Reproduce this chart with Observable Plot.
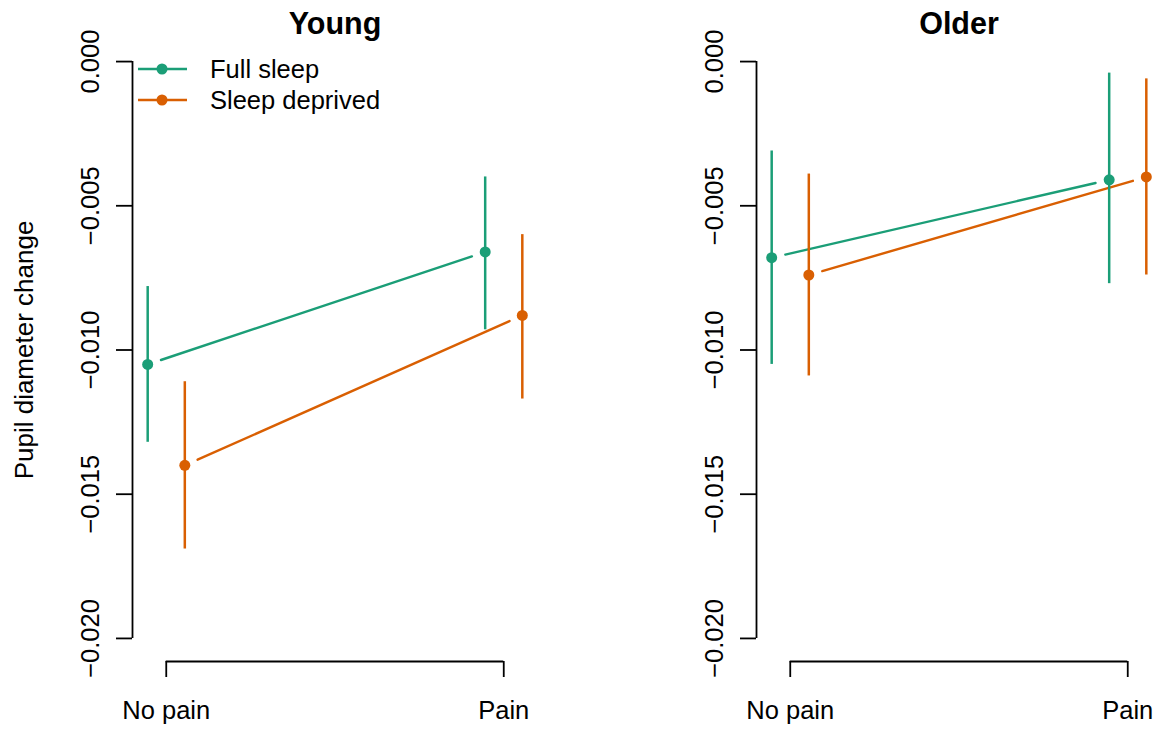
<!DOCTYPE html>
<html><head><meta charset="utf-8">
<script src="https://cdn.jsdelivr.net/npm/d3@7"></script>
<script src="https://cdn.jsdelivr.net/npm/@observablehq/plot@0.6"></script>
<style>
body{margin:0;background:#fff;}
#wrap{position:relative;width:1161px;height:730px;display:flex;}
#wrap svg{font-family:"Liberation Sans", Arial, Helvetica, sans-serif;overflow:visible;}
</style></head><body><div id="wrap"></div>
<script>
// ---- data ----
const groups = ["Young", "Older"];
const conditions = ["No pain", "Pain"];
const series = ["Full sleep", "Sleep deprived"];
const colors = ["#1B9E77", "#D95F02"];
const dodge = [-0.055, 0.055];
const yTicks = [0, -0.005, -0.010, -0.015, -0.020];

// means and interval bounds, per condition [No pain, Pain]
const youngFullMean = [-0.0105, -0.0066];
const youngFullLo   = [-0.0132, -0.0093];
const youngFullHi   = [-0.0078, -0.0040];
const youngDepMean  = [-0.0140, -0.0088];
const youngDepLo    = [-0.0169, -0.0117];
const youngDepHi    = [-0.0111, -0.0060];
const olderFullMean = [-0.0068, -0.0041];
const olderFullLo   = [-0.0105, -0.0077];
const olderFullHi   = [-0.0031, -0.0004];
const olderDepMean  = [-0.0074, -0.0040];
const olderDepLo    = [-0.0109, -0.0074];
const olderDepHi    = [-0.0039, -0.0006];

const table = {
  Young: [[youngFullMean, youngFullLo, youngFullHi], [youngDepMean, youngDepLo, youngDepHi]],
  Older: [[olderFullMean, olderFullLo, olderFullHi], [olderDepMean, olderDepLo, olderDepHi]]
};

const xDomain = [-0.1, 1.1];
const yDomain = [-0.0208, 0.0008];
const fmt = d3.format(".3f");
const font = 25.5;

function rowsFor(group) {
  const rows = [];
  series.forEach((s, si) => {
    const [m, lo, hi] = table[group][si];
    conditions.forEach((c, ci) => {
      rows.push({series: s, si, ci, x: ci + dodge[si], mean: m[ci], lo: lo[ci], hi: hi[ci]});
    });
  });
  return rows;
}
function segsFor(group) {
  return series.map((s, si) => {
    const m = table[group][si][0];
    return {series: s, si, x1: 0 + dodge[si], y1: m[0], x2: 1 + dodge[si], y2: m[1]};
  });
}

function legendMark() {
  return (index, scales, values, dims) => {
    const g = d3.create("svg:g");
    series.forEach((s, i) => {
      const y = dims.marginTop + 31 + i * 31;
      const x0 = dims.marginLeft + 6;
      g.append("line").attr("x1", x0).attr("x2", x0 + 49).attr("y1", y).attr("y2", y)
        .attr("stroke", colors[i]).attr("stroke-width", 2.4);
      g.append("circle").attr("cx", x0 + 24).attr("cy", y).attr("r", 5.5).attr("fill", colors[i]);
      g.append("text").attr("x", x0 + 72).attr("y", y).attr("dy", "0.36em")
        .attr("text-anchor", "start")
        .attr("font-size", font).attr("fill", "#000").text(s);
    });
    return g.node();
  };
}

function panel(group, opts) {
  const rows = rowsFor(group);
  const segs = segsFor(group);
  const marks = [
    Plot.ruleX([xDomain[0]], {y1: yTicks[0], y2: yTicks[yTicks.length - 1], stroke: "#000", strokeWidth: 1.8}),
    Plot.axisY(yTicks, {tickSize: 16, tickFormat: () => "", strokeWidth: 1.8, stroke: "#000", label: null}),
    Plot.text(yTicks, {y: d => d, text: d => fmt(d), frameAnchor: "left", dx: -34, rotate: -90,
      lineAnchor: "bottom", textAnchor: "middle", fontSize: font, fill: "#000"}),
    Plot.ruleY([yDomain[0]], {x1: 0, x2: 1, stroke: "#000", strokeWidth: 1.8}),
    Plot.axisX([0, 1], {tickSize: 16, tickPadding: 23, tickFormat: i => conditions[i], fontSize: font,
      strokeWidth: 1.8, stroke: "#000", fill: "#000", label: null}),
    Plot.arrow(segs, {x1: "x1", y1: "y1", x2: "x2", y2: "y2", stroke: d => colors[d.si],
      strokeWidth: 2.4, headLength: 0, inset: 14}),
    Plot.ruleX(rows, {x: "x", y1: "lo", y2: "hi", stroke: d => colors[d.si], strokeWidth: 2.5}),
    Plot.dot(rows, {x: "x", y: "mean", r: 5.5, fill: d => colors[d.si], stroke: null}),
    Plot.text([group], {frameAnchor: "top", dy: -5, lineAnchor: "bottom", text: d => d,
      fontSize: 30.5, fontWeight: "bold", fill: "#000"})
  ];
  if (opts.yLabel) marks.push(Plot.text([opts.yLabel], {frameAnchor: "left", dx: -100, rotate: -90,
      lineAnchor: "bottom", textAnchor: "middle", text: d => d, fontSize: 26, fill: "#000"}));
  if (opts.legend) marks.push(legendMark());
  return Plot.plot({
    width: opts.width, height: 730,
    marginLeft: opts.marginLeft, marginRight: opts.marginRight, marginTop: 38, marginBottom: 69,
    x: {domain: xDomain, axis: null},
    y: {domain: yDomain, axis: null},
    style: {background: "transparent", fontFamily: "'Liberation Sans', Arial, Helvetica, sans-serif"},
    marks
  });
}

const wrap = document.getElementById("wrap");
wrap.appendChild(panel("Young", {width: 580, marginLeft: 132, marginRight: 43, yLabel: "Pupil diameter change", legend: true}));
wrap.appendChild(panel("Older", {width: 581, marginLeft: 176, marginRight: 0}));
</script></body></html>
